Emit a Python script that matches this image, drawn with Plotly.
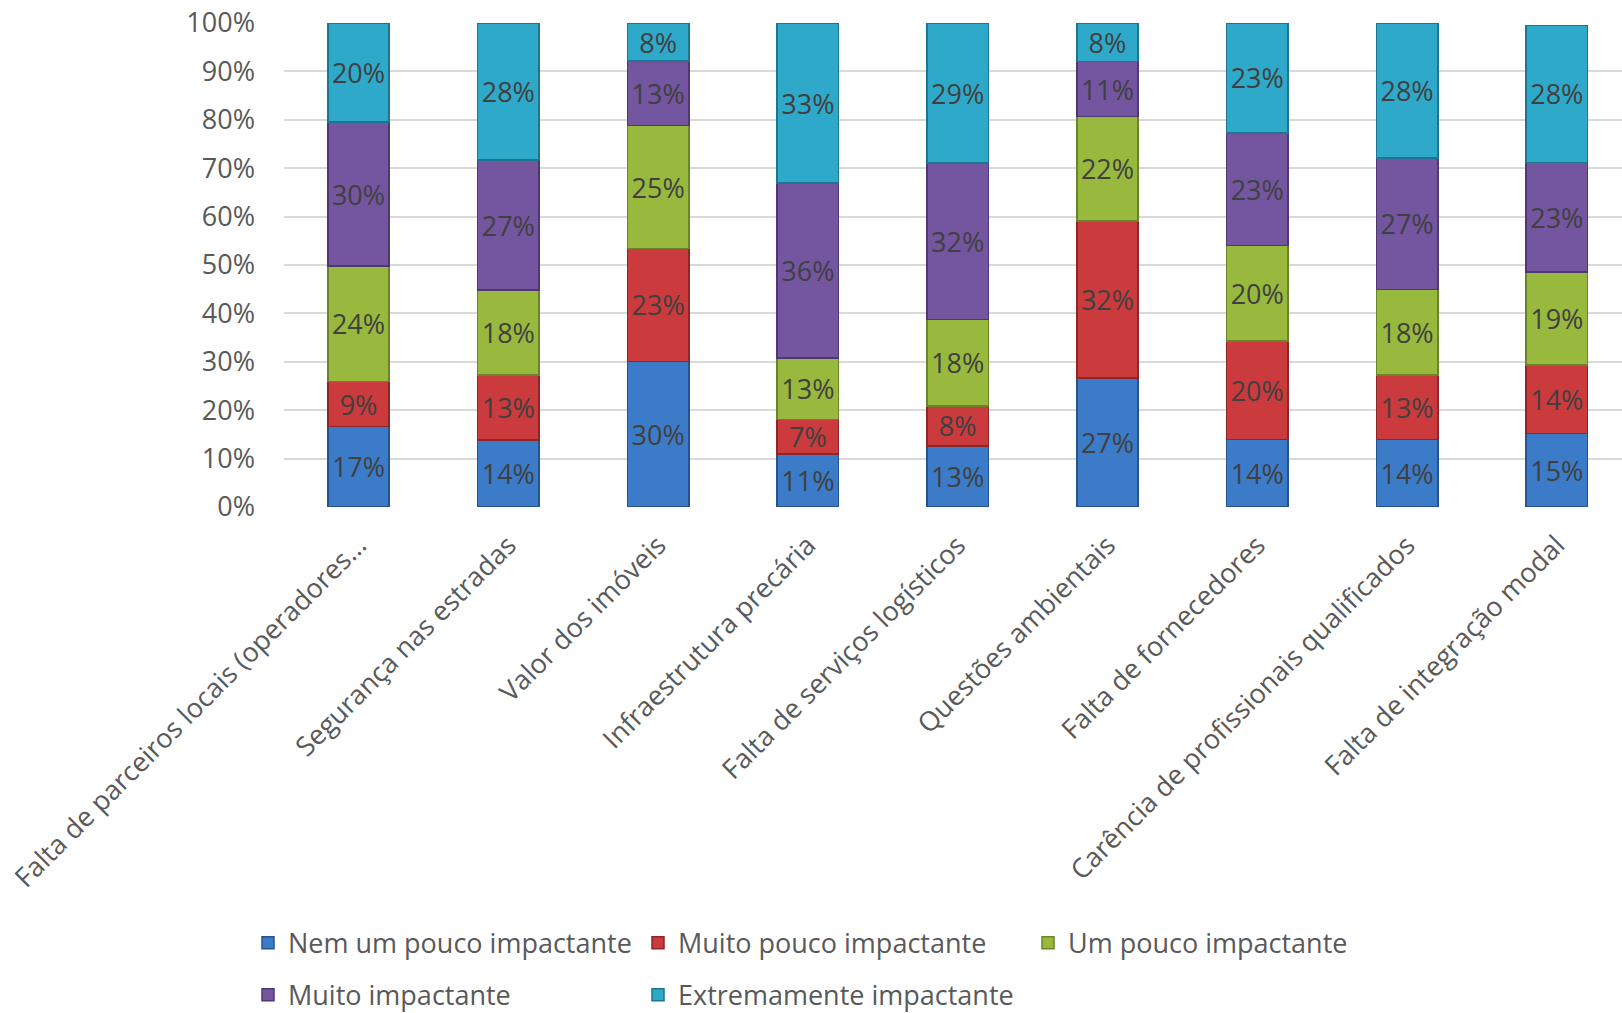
import plotly.graph_objects as go

categories = [
    "Falta de parceiros locais (operadores...",
    "Segurança nas estradas",
    "Valor dos imóveis",
    "Infraestrutura precária",
    "Falta de serviços logísticos",
    "Questões ambientais",
    "Falta de fornecedores",
    "Carência de profissionais qualificados",
    "Falta de integração modal",
]

series_names = [
    "Nem um pouco impactante",
    "Muito pouco impactante",
    "Um pouco impactante",
    "Muito impactante",
    "Extremamente impactante",
]

nem_um_pouco = [16.6, 13.8, 30.1, 11.0, 12.6, 26.7, 13.9, 13.9, 15.2]
muito_pouco = [9.3, 13.45, 23.3, 7.1, 8.3, 32.4, 20.4, 13.4, 14.1]
um_pouco = [23.9, 17.55, 25.4, 12.7, 17.8, 21.6, 19.7, 17.6, 19.3]
muito = [29.7, 26.9, 13.3, 36.1, 32.4, 11.3, 23.3, 27.2, 22.6]
extremamente = [20.4, 28.3, 7.9, 33.1, 28.8, 8.0, 22.7, 27.9, 28.3]

y_ticks = [0, 10, 20, 30, 40, 50, 60, 70, 80, 90, 100]

series_values = [nem_um_pouco, muito_pouco, um_pouco, muito, extremamente]
fill_colors = ["#3C7BC8", "#CB3A3C", "#98B93E", "#7355A0", "#2FA9CA"]
line_colors = ["#25538F", "#8E2527", "#6A8428", "#4E3873", "#1D7690"]
legend_ids = ["legend", "legend", "legend", "legend2", "legend2"]

FONT = "Open Sans"
FS = 27

fig = go.Figure()
for name, vals, fc, lc, lg in zip(series_names, series_values, fill_colors, line_colors, legend_ids):
    fig.add_trace(go.Bar(
        x=categories,
        y=vals,
        name=name,
        marker=dict(color=fc, line=dict(color=lc, width=1.5)),
        texttemplate="%{y:.0f}%",
        textposition="inside",
        insidetextanchor="middle",
        textangle=0,
        textfont=dict(family=FONT, size=FS, color="#404040"),
        legend=lg,
        hoverinfo="skip",
    ))

fig.update_layout(
    width=1622,
    height=1013,
    barmode="stack",
    bargap=0.59,
    plot_bgcolor="white",
    paper_bgcolor="white",
    margin=dict(l=284, r=0, t=23, b=506),
    font=dict(family=FONT, size=FS, color="#595959"),
    uniformtext=dict(minsize=FS, mode="show"),
    showlegend=True,
    legend=dict(
        orientation="h",
        xref="container", yref="container",
        x=0.1529, xanchor="left",
        y=0.069, yanchor="middle",
        entrywidth=345, entrywidthmode="pixels",
        font=dict(family=FONT, size=FS, color="#595959"),
        traceorder="normal",
        bgcolor="rgba(0,0,0,0)",
    ),
    legend2=dict(
        orientation="h",
        xref="container", yref="container",
        x=0.1529, xanchor="left",
        y=0.0175, yanchor="middle",
        entrywidth=345, entrywidthmode="pixels",
        font=dict(family=FONT, size=FS, color="#595959"),
        traceorder="normal",
        bgcolor="rgba(0,0,0,0)",
    ),
)

fig.update_yaxes(
    range=[0, 100],
    tickvals=y_ticks,
    ticktext=[f"{v}%" for v in y_ticks],
    showgrid=True,
    gridcolor="#D9D9D9",
    gridwidth=1.5,
    zeroline=False,
    showline=False,
    ticks="",
    ticklabelstandoff=28,
    tickfont=dict(family=FONT, size=FS, color="#595959"),
)

fig.update_xaxes(
    range=[-0.4975, 8.435],
    tickangle=-45,
    showgrid=False,
    showline=False,
    ticks="",
    ticklabelstandoff=16,
    tickfont=dict(family=FONT, size=FS, color="#595959"),
)

fig.write_html("out.html")
